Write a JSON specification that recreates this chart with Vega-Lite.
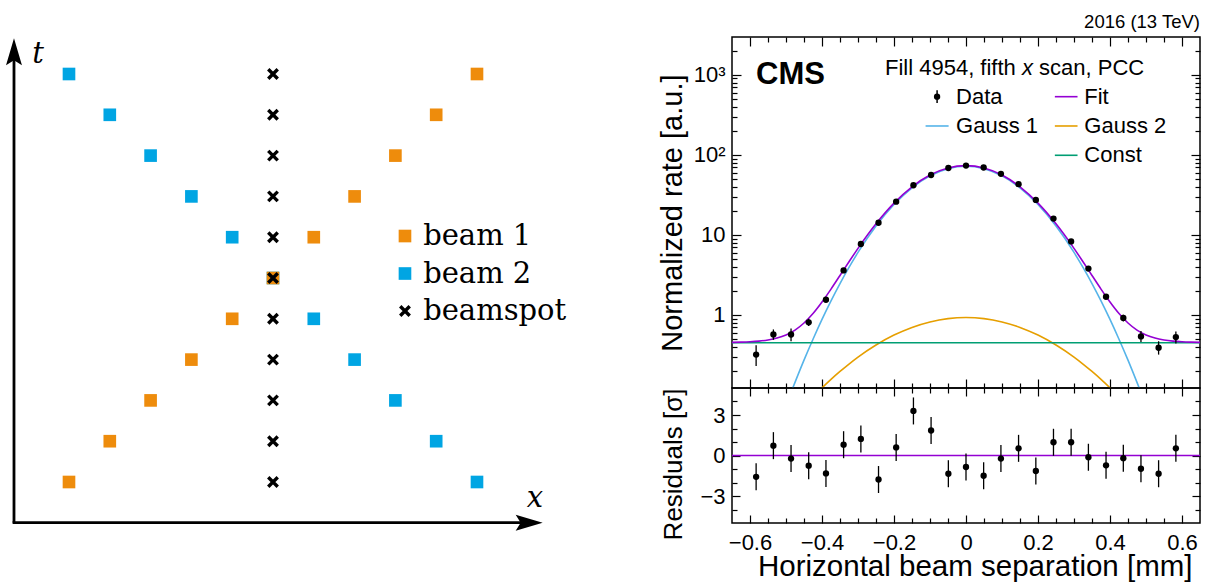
{
 "$schema": "https://vega.github.io/schema/vega-lite/v6.json",
 "background": "white",
 "padding": {"left": 0, "top": 12, "right": 0, "bottom": 0},
 "config": {
  "view": {"stroke": "black", "strokeWidth": 1.5},
  "font": "Liberation Sans",
  "axis": {"domain": false, "grid": false, "labelFont": "Liberation Sans", "titleFont": "Liberation Sans", "labelColor": "black", "titleColor": "black", "tickColor": "black", "tickWidth": 1.2, "labelFontSize": 22, "titleFontWeight": "normal"}
 },
 "datasets": {
  "schem": [
   {"obj": "beam 2", "c": -5, "r": 5}, {"obj": "beam 2", "c": -4, "r": 4}, {"obj": "beam 2", "c": -3, "r": 3}, {"obj": "beam 2", "c": -2, "r": 2}, {"obj": "beam 2", "c": -1, "r": 1}, {"obj": "beam 2", "c": 0, "r": 0}, {"obj": "beam 2", "c": 1, "r": -1}, {"obj": "beam 2", "c": 2, "r": -2}, {"obj": "beam 2", "c": 3, "r": -3}, {"obj": "beam 2", "c": 4, "r": -4}, {"obj": "beam 2", "c": 5, "r": -5},
   {"obj": "beam 1", "c": 5, "r": 5}, {"obj": "beam 1", "c": 4, "r": 4}, {"obj": "beam 1", "c": 3, "r": 3}, {"obj": "beam 1", "c": 2, "r": 2}, {"obj": "beam 1", "c": 1, "r": 1}, {"obj": "beam 1", "c": 0, "r": 0}, {"obj": "beam 1", "c": -1, "r": -1}, {"obj": "beam 1", "c": -2, "r": -2}, {"obj": "beam 1", "c": -3, "r": -3}, {"obj": "beam 1", "c": -4, "r": -4}, {"obj": "beam 1", "c": -5, "r": -5},
   {"obj": "beamspot", "c": 0, "r": 5}, {"obj": "beamspot", "c": 0, "r": 4}, {"obj": "beamspot", "c": 0, "r": 3}, {"obj": "beamspot", "c": 0, "r": 2}, {"obj": "beamspot", "c": 0, "r": 1}, {"obj": "beamspot", "c": 0, "r": 0}, {"obj": "beamspot", "c": 0, "r": -1}, {"obj": "beamspot", "c": 0, "r": -2}, {"obj": "beamspot", "c": 0, "r": -3}, {"obj": "beamspot", "c": 0, "r": -4}, {"obj": "beamspot", "c": 0, "r": -5}
  ],
  "curves": [
   {"x": -0.65, "fit": 0.455, "g1": 0.00064, "g2": 0.00442, "c": 0.45},
   {"x": -0.625, "fit": 0.458, "g1": 0.00154, "g2": 0.00662, "c": 0.45},
   {"x": -0.6, "fit": 0.463, "g1": 0.00357, "g2": 0.00974, "c": 0.45},
   {"x": -0.575, "fit": 0.472, "g1": 0.008, "g2": 0.0142, "c": 0.45},
   {"x": -0.55, "fit": 0.488, "g1": 0.0174, "g2": 0.0202, "c": 0.45},
   {"x": -0.525, "fit": 0.515, "g1": 0.0365, "g2": 0.0284, "c": 0.45},
   {"x": -0.5, "fit": 0.563, "g1": 0.0739, "g2": 0.0392, "c": 0.45},
   {"x": -0.475, "fit": 0.648, "g1": 0.144, "g2": 0.0535, "c": 0.45},
   {"x": -0.45, "fit": 0.795, "g1": 0.273, "g2": 0.0716, "c": 0.45},
   {"x": -0.425, "fit": 1.043, "g1": 0.498, "g2": 0.0945, "c": 0.45},
   {"x": -0.4, "fit": 1.453, "g1": 0.88, "g2": 0.123, "c": 0.45},
   {"x": -0.375, "fit": 2.107, "g1": 1.5, "g2": 0.157, "c": 0.45},
   {"x": -0.35, "fit": 3.117, "g1": 2.47, "g2": 0.197, "c": 0.45},
   {"x": -0.325, "fit": 4.624, "g1": 3.93, "g2": 0.244, "c": 0.45},
   {"x": -0.3, "fit": 6.792, "g1": 6.044, "g2": 0.298, "c": 0.45},
   {"x": -0.25, "fit": 13.76, "g1": 12.89, "g2": 0.422, "c": 0.45},
   {"x": -0.2, "fit": 24.95, "g1": 23.94, "g2": 0.561, "c": 0.45},
   {"x": -0.15, "fit": 39.91, "g1": 38.76, "g2": 0.7, "c": 0.45},
   {"x": -0.1, "fit": 55.97, "g1": 54.7, "g2": 0.819, "c": 0.45},
   {"x": -0.05, "fit": 68.55, "g1": 67.2, "g2": 0.901, "c": 0.45},
   {"x": 0, "fit": 73.38, "g1": 72, "g2": 0.93, "c": 0.45},
   {"x": 0.05, "fit": 68.55, "g1": 67.2, "g2": 0.901, "c": 0.45},
   {"x": 0.1, "fit": 55.97, "g1": 54.7, "g2": 0.819, "c": 0.45},
   {"x": 0.15, "fit": 39.91, "g1": 38.76, "g2": 0.7, "c": 0.45},
   {"x": 0.2, "fit": 24.95, "g1": 23.94, "g2": 0.561, "c": 0.45},
   {"x": 0.25, "fit": 13.76, "g1": 12.89, "g2": 0.422, "c": 0.45},
   {"x": 0.3, "fit": 6.792, "g1": 6.044, "g2": 0.298, "c": 0.45},
   {"x": 0.325, "fit": 4.624, "g1": 3.93, "g2": 0.244, "c": 0.45},
   {"x": 0.35, "fit": 3.117, "g1": 2.47, "g2": 0.197, "c": 0.45},
   {"x": 0.375, "fit": 2.107, "g1": 1.5, "g2": 0.157, "c": 0.45},
   {"x": 0.4, "fit": 1.453, "g1": 0.88, "g2": 0.123, "c": 0.45},
   {"x": 0.425, "fit": 1.043, "g1": 0.498, "g2": 0.0945, "c": 0.45},
   {"x": 0.45, "fit": 0.795, "g1": 0.273, "g2": 0.0716, "c": 0.45},
   {"x": 0.475, "fit": 0.648, "g1": 0.144, "g2": 0.0535, "c": 0.45},
   {"x": 0.5, "fit": 0.563, "g1": 0.0739, "g2": 0.0392, "c": 0.45},
   {"x": 0.525, "fit": 0.515, "g1": 0.0365, "g2": 0.0284, "c": 0.45},
   {"x": 0.55, "fit": 0.488, "g1": 0.0174, "g2": 0.0202, "c": 0.45},
   {"x": 0.575, "fit": 0.472, "g1": 0.008, "g2": 0.0142, "c": 0.45},
   {"x": 0.6, "fit": 0.463, "g1": 0.00357, "g2": 0.00974, "c": 0.45},
   {"x": 0.625, "fit": 0.458, "g1": 0.00154, "g2": 0.00662, "c": 0.45},
   {"x": 0.65, "fit": 0.455, "g1": 0.00064, "g2": 0.00442, "c": 0.45}
  ],
  "pts": [
   {"x": -0.583, "rate": 0.32, "lo": 0.23, "hi": 0.42, "res": -1.58, "rlo": -2.58, "rhi": -0.58},
   {"x": -0.535, "rate": 0.57, "lo": 0.49, "hi": 0.66, "res": 0.73, "rlo": -0.27, "rhi": 1.73},
   {"x": -0.486, "rate": 0.57, "lo": 0.47, "hi": 0.68, "res": -0.23, "rlo": -1.23, "rhi": 0.77},
   {"x": -0.437, "rate": 0.81, "lo": 0.73, "hi": 0.9, "res": -0.75, "rlo": -1.75, "rhi": 0.25},
   {"x": -0.389, "rate": 1.55, "lo": 1.45, "hi": 1.66, "res": -1.33, "rlo": -2.33, "rhi": -0.33},
   {"x": -0.34, "rate": 3.6, "lo": 3.45, "hi": 3.75, "res": 0.8, "rlo": -0.2, "rhi": 1.8},
   {"x": -0.292, "rate": 7.7, "lo": 7.5, "hi": 7.9, "res": 1.23, "rlo": 0.23, "rhi": 2.23},
   {"x": -0.243, "rate": 14.2, "lo": 13.9, "hi": 14.5, "res": -1.78, "rlo": -2.78, "rhi": -0.78},
   {"x": -0.194, "rate": 26, "lo": 25.6, "hi": 26.4, "res": 0.6, "rlo": -0.4, "rhi": 1.6},
   {"x": -0.146, "rate": 41.7, "lo": 41.2, "hi": 42.2, "res": 3.3, "rlo": 2.3, "rhi": 4.3},
   {"x": -0.097, "rate": 56, "lo": 55.4, "hi": 56.6, "res": 1.85, "rlo": 0.85, "rhi": 2.85},
   {"x": -0.049, "rate": 68.5, "lo": 67.8, "hi": 69.2, "res": -1.35, "rlo": -2.35, "rhi": -0.35},
   {"x": 0, "rate": 73.5, "lo": 72.8, "hi": 74.2, "res": -0.85, "rlo": -1.85, "rhi": 0.15},
   {"x": 0.049, "rate": 69.5, "lo": 68.8, "hi": 70.2, "res": -1.5, "rlo": -2.5, "rhi": -0.5},
   {"x": 0.097, "rate": 58, "lo": 57.4, "hi": 58.6, "res": -0.23, "rlo": -1.23, "rhi": 0.77},
   {"x": 0.146, "rate": 43, "lo": 42.5, "hi": 43.5, "res": 0.53, "rlo": -0.47, "rhi": 1.53},
   {"x": 0.194, "rate": 27.4, "lo": 27, "hi": 27.8, "res": -1.15, "rlo": -2.15, "rhi": -0.15},
   {"x": 0.243, "rate": 16, "lo": 15.7, "hi": 16.3, "res": 0.98, "rlo": -0.02, "rhi": 1.98},
   {"x": 0.292, "rate": 8.3, "lo": 8.1, "hi": 8.5, "res": 0.98, "rlo": -0.02, "rhi": 1.98},
   {"x": 0.34, "rate": 3.8, "lo": 3.65, "hi": 3.95, "res": -0.13, "rlo": -1.13, "rhi": 0.87},
   {"x": 0.389, "rate": 1.69, "lo": 1.58, "hi": 1.8, "res": -0.73, "rlo": -1.73, "rhi": 0.27},
   {"x": 0.437, "rate": 0.92, "lo": 0.83, "hi": 1.01, "res": -0.2, "rlo": -1.2, "rhi": 0.8},
   {"x": 0.486, "rate": 0.54, "lo": 0.46, "hi": 0.63, "res": -0.98, "rlo": -1.98, "rhi": 0.02},
   {"x": 0.535, "rate": 0.39, "lo": 0.32, "hi": 0.47, "res": -1.35, "rlo": -2.35, "rhi": -0.35},
   {"x": 0.583, "rate": 0.53, "lo": 0.44, "hi": 0.62, "res": 0.53, "rlo": -0.47, "rhi": 1.53}
  ]
 },
 "spacing": 57,
 "hconcat": [
  {
   "width": 600,
   "height": 500,
   "view": {"stroke": null},
   "layer": [
    {"data": {"values": [{}]}, "mark": {"type": "rule", "color": "black", "strokeWidth": 2.8},
     "encoding": {
      "x": {"datum": -6.348, "type": "quantitative", "scale": {"domain": [-6.691, 8.015], "nice": false, "zero": false}, "axis": null},
      "y": {"datum": -5.998, "type": "quantitative", "scale": {"domain": [-6.348, 5.907], "nice": false, "zero": false}, "axis": null},
      "y2": {"datum": 5.4}}},
    {"data": {"values": [{}]}, "mark": {"type": "rule", "color": "black", "strokeWidth": 2.8},
     "encoding": {
      "x": {"datum": -6.382, "type": "quantitative", "scale": {"domain": [-6.691, 8.015], "nice": false, "zero": false}, "axis": null},
      "x2": {"datum": 6.15},
      "y": {"datum": -5.998, "type": "quantitative", "scale": {"domain": [-6.348, 5.907], "nice": false, "zero": false}, "axis": null}}},
    {"data": {"values": [{}]}, "mark": {"type": "point", "shape": "M0,-1L0.59,1L0,0.63L-0.59,1Z", "filled": true, "size": 729, "color": "black", "opacity": 1},
     "encoding": {
      "x": {"datum": -6.348, "type": "quantitative", "scale": {"domain": [-6.691, 8.015], "nice": false, "zero": false}, "axis": null},
      "y": {"datum": 5.544, "type": "quantitative", "scale": {"domain": [-6.348, 5.907], "nice": false, "zero": false}, "axis": null}}},
    {"data": {"values": [{}]}, "mark": {"type": "point", "shape": "M1,0L-1,0.59L-0.63,0L-1,-0.59Z", "filled": true, "size": 729, "color": "black", "opacity": 1},
     "encoding": {
      "x": {"datum": 6.279, "type": "quantitative", "scale": {"domain": [-6.691, 8.015], "nice": false, "zero": false}, "axis": null},
      "y": {"datum": -5.998, "type": "quantitative", "scale": {"domain": [-6.348, 5.907], "nice": false, "zero": false}, "axis": null}}},
    {"data": {"values": [{}]}, "mark": {"type": "text", "text": "t", "font": "DejaVu Serif", "fontStyle": "italic", "fontSize": 29, "align": "center", "baseline": "middle", "color": "black"},
     "encoding": {
      "x": {"datum": -5.76, "type": "quantitative", "scale": {"domain": [-6.691, 8.015], "nice": false, "zero": false}, "axis": null},
      "y": {"datum": 5.5, "type": "quantitative", "scale": {"domain": [-6.348, 5.907], "nice": false, "zero": false}, "axis": null}}},
    {"data": {"values": [{}]}, "mark": {"type": "text", "text": "x", "font": "DejaVu Serif", "fontStyle": "italic", "fontSize": 29, "align": "center", "baseline": "middle", "color": "black"},
     "encoding": {
      "x": {"datum": 6.42, "type": "quantitative", "scale": {"domain": [-6.691, 8.015], "nice": false, "zero": false}, "axis": null},
      "y": {"datum": -5.39, "type": "quantitative", "scale": {"domain": [-6.348, 5.907], "nice": false, "zero": false}, "axis": null}}},
    {"data": {"name": "schem"},
     "mark": {"type": "point", "filled": true, "size": 160, "strokeWidth": 3.4, "opacity": 1},
     "encoding": {
      "x": {"field": "c", "type": "quantitative", "scale": {"domain": [-6.691, 8.015], "nice": false, "zero": false}, "axis": null},
      "y": {"field": "r", "type": "quantitative", "scale": {"domain": [-6.348, 5.907], "nice": false, "zero": false}, "axis": null},
      "fill": {"field": "obj", "type": "nominal", "scale": {"domain": ["beam 1", "beam 2", "beamspot"], "range": ["#EE8C0C", "#00A5E3", "transparent"]}, "legend": null},
      "stroke": {"field": "obj", "type": "nominal", "scale": {"domain": ["beam 1", "beam 2", "beamspot"], "range": ["transparent", "transparent", "black"]}, "legend": null},
      "shape": {"field": "obj", "type": "nominal", "scale": {"domain": ["beam 1", "beam 2", "beamspot"], "range": ["square", "square", "M-0.75,-0.75L0.75,0.75M0.75,-0.75L-0.75,0.75"]}, "legend": null}
     }},
    {"data": {"values": [{}]}, "mark": {"type": "point", "shape": "square", "filled": true, "size": 160, "color": "#EE8C0C", "opacity": 1},
     "encoding": {
      "x": {"datum": 3.235, "type": "quantitative", "scale": {"domain": [-6.691, 8.015], "nice": false, "zero": false}, "axis": null},
      "y": {"datum": 1.029, "type": "quantitative", "scale": {"domain": [-6.348, 5.907], "nice": false, "zero": false}, "axis": null}}},
    {"data": {"values": [{}]}, "mark": {"type": "point", "shape": "square", "filled": true, "size": 160, "color": "#00A5E3", "opacity": 1},
     "encoding": {
      "x": {"datum": 3.235, "type": "quantitative", "scale": {"domain": [-6.691, 8.015], "nice": false, "zero": false}, "axis": null},
      "y": {"datum": 0.11, "type": "quantitative", "scale": {"domain": [-6.348, 5.907], "nice": false, "zero": false}, "axis": null}}},
    {"data": {"values": [{}]}, "mark": {"type": "point", "shape": "M-0.75,-0.75L0.75,0.75M0.75,-0.75L-0.75,0.75", "filled": false, "size": 160, "strokeWidth": 3.4, "color": "black", "opacity": 1},
     "encoding": {
      "x": {"datum": 3.235, "type": "quantitative", "scale": {"domain": [-6.691, 8.015], "nice": false, "zero": false}, "axis": null},
      "y": {"datum": -0.809, "type": "quantitative", "scale": {"domain": [-6.348, 5.907], "nice": false, "zero": false}, "axis": null}}},
    {"data": {"values": [{}]}, "mark": {"type": "text", "text": "beam 1", "font": "DejaVu Serif", "fontSize": 29, "align": "left", "baseline": "middle", "color": "black"},
     "encoding": {
      "x": {"datum": 3.68, "type": "quantitative", "scale": {"domain": [-6.691, 8.015], "nice": false, "zero": false}, "axis": null},
      "y": {"datum": 1.029, "type": "quantitative", "scale": {"domain": [-6.348, 5.907], "nice": false, "zero": false}, "axis": null}}},
    {"data": {"values": [{}]}, "mark": {"type": "text", "text": "beam 2", "font": "DejaVu Serif", "fontSize": 29, "align": "left", "baseline": "middle", "color": "black"},
     "encoding": {
      "x": {"datum": 3.68, "type": "quantitative", "scale": {"domain": [-6.691, 8.015], "nice": false, "zero": false}, "axis": null},
      "y": {"datum": 0.11, "type": "quantitative", "scale": {"domain": [-6.348, 5.907], "nice": false, "zero": false}, "axis": null}}},
    {"data": {"values": [{}]}, "mark": {"type": "text", "text": "beamspot", "font": "DejaVu Serif", "fontSize": 29, "align": "left", "baseline": "middle", "color": "black"},
     "encoding": {
      "x": {"datum": 3.68, "type": "quantitative", "scale": {"domain": [-6.691, 8.015], "nice": false, "zero": false}, "axis": null},
      "y": {"datum": -0.809, "type": "quantitative", "scale": {"domain": [-6.348, 5.907], "nice": false, "zero": false}, "axis": null}}}
   ]
  },
  {
   "spacing": 0,
   "bounds": "flush",
   "vconcat": [
    {
     "width": 468,
     "height": 351,
     "resolve": {"axis": {"x": "independent", "y": "independent"}},
     "layer": [
      {"data": {"name": "curves"},
       "transform": [{"fold": ["g1", "g2", "c", "fit"], "as": ["key", "val"]}],
       "mark": {"type": "line", "strokeWidth": 1.6, "clip": true, "interpolate": "monotone"},
       "encoding": {
        "x": {"field": "x", "type": "quantitative", "scale": {"domain": [-0.65, 0.65], "nice": false, "zero": false},
         "axis": {"orient": "top", "values": [-0.6, -0.55, -0.5, -0.45, -0.4, -0.35, -0.3, -0.25, -0.2, -0.15, -0.1, -0.05, 0, 0.05, 0.1, 0.15, 0.2, 0.25, 0.3, 0.35, 0.4, 0.45, 0.5, 0.55, 0.6], "labels": false, "title": null,
          "tickSize": {"condition": {"test": "abs(datum.value*5-round(datum.value*5))<0.01", "value": -9}, "value": -5}}},
        "y": {"field": "val", "type": "quantitative", "scale": {"type": "log", "domain": [0.1225, 2965], "nice": false},
         "axis": {"orient": "right", "values": [0.2, 0.3, 0.4, 0.5, 0.6, 0.7, 0.8, 0.9, 1, 2, 3, 4, 5, 6, 7, 8, 9, 10, 20, 30, 40, 50, 60, 70, 80, 90, 100, 200, 300, 400, 500, 600, 700, 800, 900, 1000, 2000], "labels": false, "title": null,
          "tickSize": {"condition": {"test": "abs(log(datum.value)/LN10-round(log(datum.value)/LN10))<0.001", "value": -9}, "value": -5}}},
        "color": {"field": "key", "type": "nominal",
         "scale": {"domain": ["fit", "g1", "g2", "c"], "range": ["#9400D3", "#56B4E9", "#E69F00", "#009E73"]},
         "legend": null}
       }},
      {"data": {"name": "pts"},
       "mark": {"type": "rule", "color": "black", "strokeWidth": 1.3},
       "encoding": {
        "x": {"field": "x", "type": "quantitative", "scale": {"domain": [-0.65, 0.65], "nice": false, "zero": false}, "axis": null},
        "y": {"field": "lo", "type": "quantitative", "scale": {"type": "log", "domain": [0.1225, 2965], "nice": false}, "axis": null},
        "y2": {"field": "hi"}}},
      {"data": {"name": "pts"},
       "mark": {"type": "circle", "color": "black", "size": 40, "opacity": 1},
       "encoding": {
        "x": {"field": "x", "type": "quantitative", "scale": {"domain": [-0.65, 0.65], "nice": false, "zero": false},
         "axis": {"orient": "bottom", "values": [-0.6, -0.55, -0.5, -0.45, -0.4, -0.35, -0.3, -0.25, -0.2, -0.15, -0.1, -0.05, 0, 0.05, 0.1, 0.15, 0.2, 0.25, 0.3, 0.35, 0.4, 0.45, 0.5, 0.55, 0.6], "labels": false, "title": null,
          "tickSize": {"condition": {"test": "abs(datum.value*5-round(datum.value*5))<0.01", "value": -9}, "value": -5}}},
        "y": {"field": "rate", "type": "quantitative", "scale": {"type": "log", "domain": [0.1225, 2965], "nice": false},
         "axis": {"orient": "left", "values": [0.2, 0.3, 0.4, 0.5, 0.6, 0.7, 0.8, 0.9, 1, 2, 3, 4, 5, 6, 7, 8, 9, 10, 20, 30, 40, 50, 60, 70, 80, 90, 100, 200, 300, 400, 500, 600, 700, 800, 900, 1000, 2000],
          "title": "Normalized rate [a.u.]", "titleFontSize": 29, "titleAngle": -90, "titleX": -51, "titleY": 37, "titleAlign": "right", "titleBaseline": "alphabetic",
          "labelExpr": "datum.value==1000?'10³':datum.value==100?'10²':datum.value==10?'10':datum.value==1?'1':''",
          "labelFontSize": 22, "labelPadding": 16, "labelOverlap": false, "labelBound": false, "labelFlush": false,
          "tickSize": {"condition": {"test": "abs(log(datum.value)/LN10-round(log(datum.value)/LN10))<0.001", "value": -9}, "value": -5}}}}},
      {"data": {"values": [{}]}, "mark": {"type": "rule", "color": "black", "strokeWidth": 1.5},
       "encoding": {
        "x": {"datum": -0.0803, "type": "quantitative", "scale": {"domain": [-0.65, 0.65], "nice": false, "zero": false}, "axis": null},
        "y": {"datum": 639.4, "type": "quantitative", "scale": {"type": "log", "domain": [0.1225, 2965], "nice": false}, "axis": null},
        "y2": {"datum": 443.9}}},
      {"data": {"values": [{}]}, "mark": {"type": "circle", "color": "black", "size": 40, "opacity": 1},
       "encoding": {
        "x": {"datum": -0.0803, "type": "quantitative", "scale": {"domain": [-0.65, 0.65], "nice": false, "zero": false}, "axis": null},
        "y": {"datum": 532.8, "type": "quantitative", "scale": {"type": "log", "domain": [0.1225, 2965], "nice": false}, "axis": null}}},
      {"data": {"values": [{}]}, "mark": {"type": "rule", "color": "#56B4E9", "strokeWidth": 1.6},
       "encoding": {
        "x": {"datum": -0.1123, "type": "quantitative", "scale": {"domain": [-0.65, 0.65], "nice": false, "zero": false}, "axis": null},
        "x2": {"datum": -0.0483},
        "y": {"datum": 229.4, "type": "quantitative", "scale": {"type": "log", "domain": [0.1225, 2965], "nice": false}, "axis": null}}},
      {"data": {"values": [{}]}, "mark": {"type": "rule", "color": "#9400D3", "strokeWidth": 1.6},
       "encoding": {
        "x": {"datum": 0.2468, "type": "quantitative", "scale": {"domain": [-0.65, 0.65], "nice": false, "zero": false}, "axis": null},
        "x2": {"datum": 0.3098},
        "y": {"datum": 532.8, "type": "quantitative", "scale": {"type": "log", "domain": [0.1225, 2965], "nice": false}, "axis": null}}},
      {"data": {"values": [{}]}, "mark": {"type": "rule", "color": "#E69F00", "strokeWidth": 1.6},
       "encoding": {
        "x": {"datum": 0.2468, "type": "quantitative", "scale": {"domain": [-0.65, 0.65], "nice": false, "zero": false}, "axis": null},
        "x2": {"datum": 0.3098},
        "y": {"datum": 229.4, "type": "quantitative", "scale": {"type": "log", "domain": [0.1225, 2965], "nice": false}, "axis": null}}},
      {"data": {"values": [{}]}, "mark": {"type": "rule", "color": "#009E73", "strokeWidth": 1.6},
       "encoding": {
        "x": {"datum": 0.2468, "type": "quantitative", "scale": {"domain": [-0.65, 0.65], "nice": false, "zero": false}, "axis": null},
        "x2": {"datum": 0.3098},
        "y": {"datum": 98.77, "type": "quantitative", "scale": {"type": "log", "domain": [0.1225, 2965], "nice": false}, "axis": null}}},
      {"data": {"values": [{}]}, "mark": {"type": "text", "text": "Data", "fontSize": 22, "align": "left", "baseline": "middle", "color": "black"},
       "encoding": {
        "x": {"datum": -0.0275, "type": "quantitative", "scale": {"domain": [-0.65, 0.65], "nice": false, "zero": false}, "axis": null},
        "y": {"datum": 532.8, "type": "quantitative", "scale": {"type": "log", "domain": [0.1225, 2965], "nice": false}, "axis": null}}},
      {"data": {"values": [{}]}, "mark": {"type": "text", "text": "Gauss 1", "fontSize": 22, "align": "left", "baseline": "middle", "color": "black"},
       "encoding": {
        "x": {"datum": -0.0275, "type": "quantitative", "scale": {"domain": [-0.65, 0.65], "nice": false, "zero": false}, "axis": null},
        "y": {"datum": 229.4, "type": "quantitative", "scale": {"type": "log", "domain": [0.1225, 2965], "nice": false}, "axis": null}}},
      {"data": {"values": [{}]}, "mark": {"type": "text", "text": "Fit", "fontSize": 22, "align": "left", "baseline": "middle", "color": "black"},
       "encoding": {
        "x": {"datum": 0.3286, "type": "quantitative", "scale": {"domain": [-0.65, 0.65], "nice": false, "zero": false}, "axis": null},
        "y": {"datum": 532.8, "type": "quantitative", "scale": {"type": "log", "domain": [0.1225, 2965], "nice": false}, "axis": null}}},
      {"data": {"values": [{}]}, "mark": {"type": "text", "text": "Gauss 2", "fontSize": 22, "align": "left", "baseline": "middle", "color": "black"},
       "encoding": {
        "x": {"datum": 0.3286, "type": "quantitative", "scale": {"domain": [-0.65, 0.65], "nice": false, "zero": false}, "axis": null},
        "y": {"datum": 229.4, "type": "quantitative", "scale": {"type": "log", "domain": [0.1225, 2965], "nice": false}, "axis": null}}},
      {"data": {"values": [{}]}, "mark": {"type": "text", "text": "Const", "fontSize": 22, "align": "left", "baseline": "middle", "color": "black"},
       "encoding": {
        "x": {"datum": 0.3286, "type": "quantitative", "scale": {"domain": [-0.65, 0.65], "nice": false, "zero": false}, "axis": null},
        "y": {"datum": 98.77, "type": "quantitative", "scale": {"type": "log", "domain": [0.1225, 2965], "nice": false}, "axis": null}}},
      {"data": {"values": [{}]},
       "mark": {"type": "text", "text": "CMS", "font": "Liberation Sans", "fontSize": 31, "fontWeight": "bold", "align": "left", "baseline": "alphabetic", "color": "black"},
       "encoding": {
        "x": {"datum": -0.583, "type": "quantitative", "scale": {"domain": [-0.65, 0.65], "nice": false, "zero": false}, "axis": null},
        "y": {"datum": 760, "type": "quantitative", "scale": {"type": "log", "domain": [0.1225, 2965], "nice": false}, "axis": null}}},
      {"data": {"values": [{}]},
       "mark": {"type": "text", "text": "Fill 4954, fifth", "font": "Liberation Sans", "fontSize": 22, "align": "right", "baseline": "alphabetic", "dx": -11.6, "color": "black"},
       "encoding": {
        "x": {"datum": 0.1706, "type": "quantitative", "scale": {"domain": [-0.65, 0.65], "nice": false, "zero": false}, "axis": null},
        "y": {"datum": 1000, "type": "quantitative", "scale": {"type": "log", "domain": [0.1225, 2965], "nice": false}, "axis": null}}},
      {"data": {"values": [{}]},
       "mark": {"type": "text", "text": "x", "font": "Liberation Sans", "fontStyle": "italic", "fontSize": 22, "align": "center", "baseline": "alphabetic", "color": "black"},
       "encoding": {
        "x": {"datum": 0.1706, "type": "quantitative", "scale": {"domain": [-0.65, 0.65], "nice": false, "zero": false}, "axis": null},
        "y": {"datum": 1000, "type": "quantitative", "scale": {"type": "log", "domain": [0.1225, 2965], "nice": false}, "axis": null}}},
      {"data": {"values": [{}]},
       "mark": {"type": "text", "text": "scan, PCC", "font": "Liberation Sans", "fontSize": 22, "align": "left", "baseline": "alphabetic", "dx": 11.6, "color": "black"},
       "encoding": {
        "x": {"datum": 0.1706, "type": "quantitative", "scale": {"domain": [-0.65, 0.65], "nice": false, "zero": false}, "axis": null},
        "y": {"datum": 1000, "type": "quantitative", "scale": {"type": "log", "domain": [0.1225, 2965], "nice": false}, "axis": null}}},
      {"data": {"values": [{}]},
       "mark": {"type": "text", "text": "2016 (13 TeV)", "font": "Liberation Sans", "fontSize": 18.5, "align": "right", "baseline": "alphabetic", "color": "black"},
       "encoding": {
        "x": {"datum": 0.65, "type": "quantitative", "scale": {"domain": [-0.65, 0.65], "nice": false, "zero": false}, "axis": null},
        "y": {"datum": 3842, "type": "quantitative", "scale": {"type": "log", "domain": [0.1225, 2965], "nice": false}, "axis": null}}}
     ]
    },
    {
     "width": 468,
     "height": 135,
     "resolve": {"axis": {"x": "independent", "y": "independent"}},
     "layer": [
      {"data": {"values": [{}]},
       "mark": {"type": "rule", "color": "#9400D3", "strokeWidth": 1.6},
       "encoding": {"y": {"datum": 0, "type": "quantitative", "scale": {"domain": [-5, 5], "nice": false, "zero": false}, "axis": null}}},
      {"data": {"name": "pts"},
       "mark": {"type": "rule", "color": "black", "strokeWidth": 1.3},
       "encoding": {
        "x": {"field": "x", "type": "quantitative", "scale": {"domain": [-0.65, 0.65], "nice": false, "zero": false},
         "axis": {"orient": "top", "values": [-0.6, -0.55, -0.5, -0.45, -0.4, -0.35, -0.3, -0.25, -0.2, -0.15, -0.1, -0.05, 0, 0.05, 0.1, 0.15, 0.2, 0.25, 0.3, 0.35, 0.4, 0.45, 0.5, 0.55, 0.6], "labels": false, "title": null,
          "tickSize": {"condition": {"test": "abs(datum.value*5-round(datum.value*5))<0.01", "value": -8}, "value": -5}}},
        "y": {"field": "rlo", "type": "quantitative", "scale": {"domain": [-5, 5], "nice": false, "zero": false},
         "axis": {"orient": "right", "values": [-4, -3, -2, -1, 0, 1, 2, 3, 4], "labels": false, "title": null,
          "tickSize": {"condition": {"test": "abs(datum.value/3-round(datum.value/3))<0.01", "value": -8}, "value": -5}}},
        "y2": {"field": "rhi"}}},
      {"data": {"name": "pts"},
       "mark": {"type": "circle", "color": "black", "size": 40, "opacity": 1},
       "encoding": {
        "x": {"field": "x", "type": "quantitative", "scale": {"domain": [-0.65, 0.65], "nice": false, "zero": false},
         "axis": {"orient": "bottom", "values": [-0.6, -0.55, -0.5, -0.45, -0.4, -0.35, -0.3, -0.25, -0.2, -0.15, -0.1, -0.05, 0, 0.05, 0.1, 0.15, 0.2, 0.25, 0.3, 0.35, 0.4, 0.45, 0.5, 0.55, 0.6],
          "title": "Horizontal beam separation [mm]", "titleFontSize": 29.5, "titleX": 460, "titleY": 52, "titleAlign": "right", "titleBaseline": "alphabetic",
          "labelExpr": "abs(datum.value*5-round(datum.value*5))<0.01?(abs(datum.value)<0.001?'0':format(datum.value,'.1f')):''",
          "labelFontSize": 22, "labelBaseline": "alphabetic", "labelPadding": 34.6, "labelFlush": false, "labelOverlap": false, "labelBound": false,
          "tickSize": {"condition": {"test": "abs(datum.value*5-round(datum.value*5))<0.01", "value": -8}, "value": -5}}},
        "y": {"field": "res", "type": "quantitative", "scale": {"domain": [-5, 5], "nice": false, "zero": false},
         "axis": {"orient": "left", "values": [-4, -3, -2, -1, 0, 1, 2, 3, 4],
          "title": "Residuals [σ]", "titleFontSize": 26, "titleAngle": -90, "titleX": -51, "titleY": 0, "titleAlign": "right", "titleBaseline": "alphabetic",
          "labelExpr": "datum.value==3?'3':datum.value==0?'0':datum.value==-3?'−3':''",
          "labelFontSize": 22, "labelPadding": 15, "labelOverlap": false, "labelBound": false, "labelFlush": false,
          "tickSize": {"condition": {"test": "abs(datum.value/3-round(datum.value/3))<0.01", "value": -8}, "value": -5}}}}}
     ]
    }
   ]
  }
 ]
}
